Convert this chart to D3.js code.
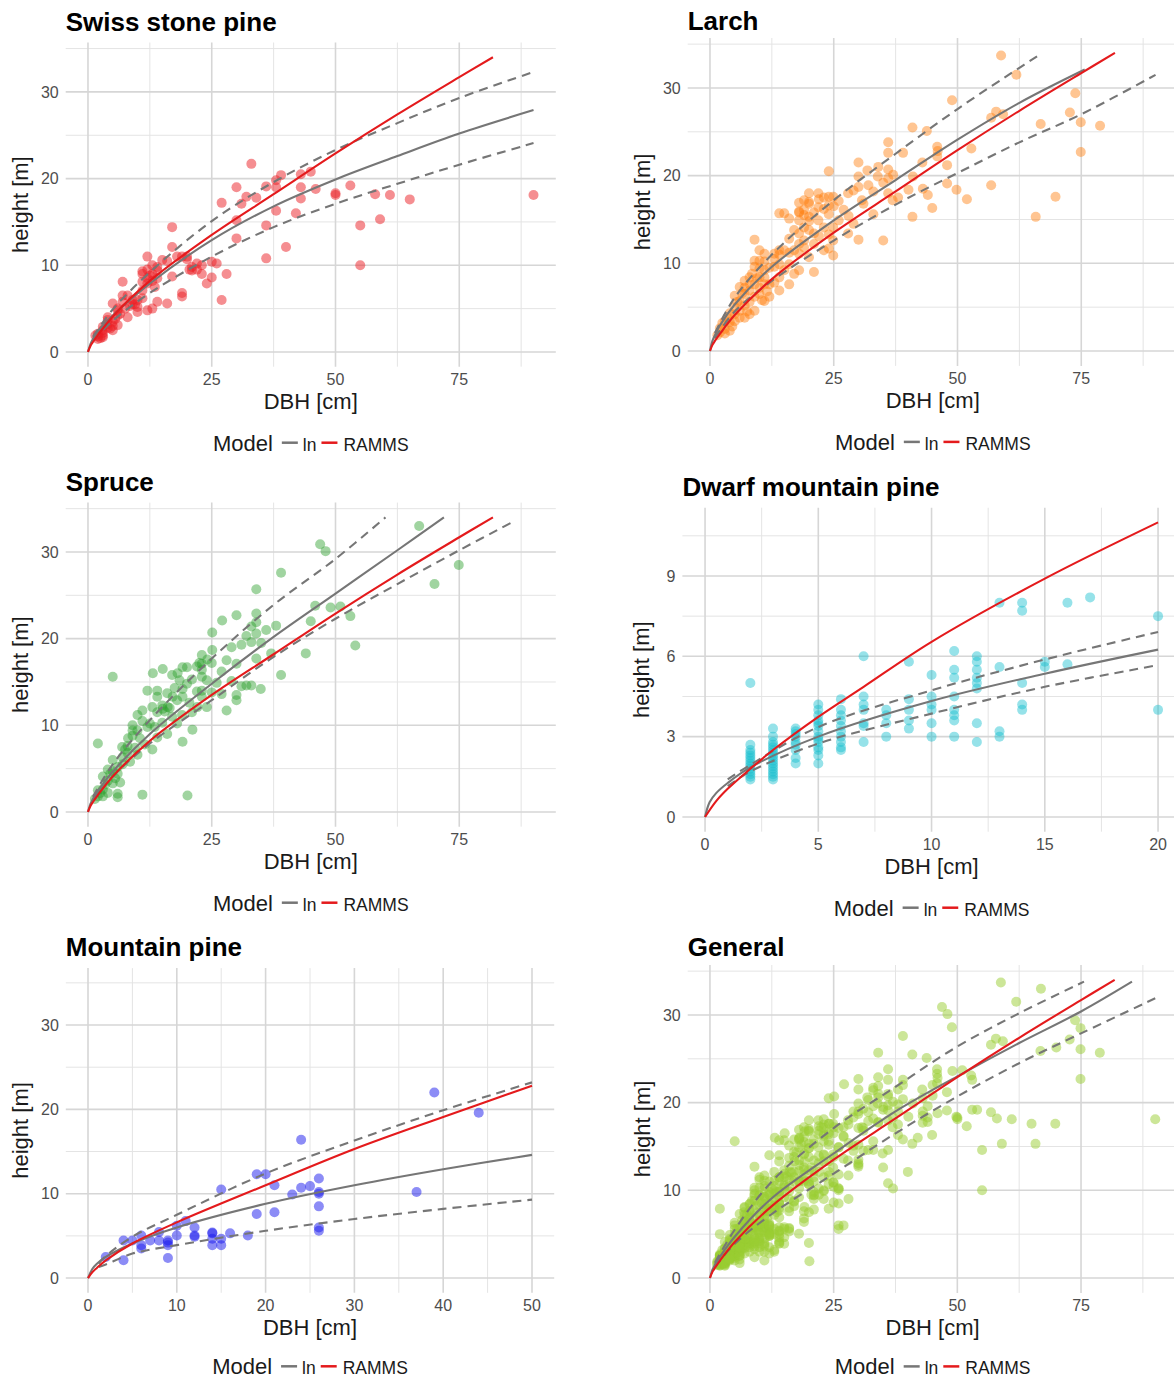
<!DOCTYPE html>
<html lang="en">
<head>
<meta charset="UTF-8">
<title>Tree height vs DBH</title>
<script src="https://cdn.jsdelivr.net/npm/d3@7"></script>
<style>
    body { margin: 0; background: #fff; }
    text { font-family: 'Liberation Sans', Arial, Helvetica, sans-serif; }
    .title { font-size: 26px; font-weight: bold; fill: #000; }
    .tick { font-size: 16px; fill: #4d4d4d; }
    .axis-title { font-size: 22px; fill: #1a1a1a; }
    .leg-title { font-size: 22px; fill: #1a1a1a; }
    .leg-item { font-size: 17.5px; fill: #1a1a1a; }
    .grid-major { stroke: #d6d6d6; stroke-width: 1.6; }
    .grid-minor { stroke: #e4e4e4; stroke-width: 1; }
    path.curve { fill: none; stroke-width: 2.1; }
</style>
</head>
<body>
<svg id="chart" width="1174" height="1380"></svg>
<script>
// ---- point data [DBH cm, height m] ----
const swissPts = [[90,18.1],[65,17.6],[61,18.1],[58,18.2],[59,15.3],[55,14.6],[55,10],[53,19.2],[50,18.3],[50,18.1],[46,18.8],[45,20.8],[43,20.5],[43,19],[43,17.7],[42,16],[40,12.1],[39,20.4],[38,19.8],[38,19],[38,16.3],[36,19.1],[36,14.6],[36,10.8],[34,17.8],[33,21.7],[32,17.9],[31,17.1],[30,19],[30,15.2],[30,13.1],[27,17.2],[28,9],[27,6],[25,10.4],[25,8.6],[24,7.9],[23,9],[22,10.2],[21,9.8],[20.5,9.5],[20,10.7],[19,11],[19,6.4],[19,6.8],[17,12.1],[17,14.4],[16,5.6],[17,8.7],[15,10.6],[14,9.4],[14,5.8],[13,9],[13,5],[12,11],[12,4.8],[12,7.9],[12,9.5],[12,8.5],[13,10],[13,8.2],[11,9],[11,8.1],[11,7.1],[11,6.2],[11,9.3],[10,4.6],[10,5.2],[9,6],[9,5.5],[8,4],[8,6.5],[7,8.1],[7,6.5],[7,5.8],[6,4.8],[6,3.1],[6,4.2],[6,5],[5,5.6],[5,2.5],[5,3.5],[5,3],[4,3.7],[4,2.8],[4,3.2],[4,4],[3,2.9],[3,2.2],[3,1.9],[3,2.5],[2,2.1],[2,1.5],[2,1.8],[1.5,1.9],[2.5,1.6],[3,1.7],[4.5,2.7],[5.5,3.8],[6.5,4.4],[7.5,5],[8.5,5.3],[9.5,5.5],[10,6],[14,9.8],[13.5,7.5],[16,10.5],[18,11],[20,11],[21,9.4],[22,9.5],[26,10.2],[23,10],[14,8.5],[12.5,8.8]];

const larchPts = [[58.8,33.7],[61.9,31.5],[48.9,28.6],[73.8,29.4],[72.7,27.2],[74.9,26.1],[78.8,25.7],[74.9,22.7],[57.8,27.3],[56.8,26.6],[59.2,27],[66.8,25.9],[69.8,17.6],[65.8,15.3],[56.8,18.9],[51.9,17.3],[49.8,18.4],[47.9,19.1],[47.9,21.2],[52.8,23.1],[45.9,23.3],[45.9,22.2],[43.8,25.1],[40.9,25.5],[42.9,21.5],[44.9,16.3],[40.9,15.3],[40.1,18.4],[39,22.6],[36,23.8],[36,22.6],[36,20.7],[36,19.7],[36,18],[36.9,17.2],[33.9,19.9],[33,18.2],[31.8,20.6],[30.7,17.2],[30,21.5],[30,19.9],[30,18.7],[27.9,18],[27.9,13.4],[30,12.7],[35,12.6],[24,20.5],[24,17.6],[24,16.6],[24.9,17.6],[24.9,14.1],[24.9,12.6],[24.9,10.9],[24,11.7],[23,11.5],[21.9,18],[21.9,16.4],[21.9,14.9],[21,13.4],[21,9],[20,18],[20,16.8],[20,15.3],[20,13.8],[20,10.7],[19,17.2],[19,16.1],[19,14.1],[19,12.6],[18,16.9],[18,15.9],[18,14.9],[18,13.4],[18,11.1],[18,9.2],[17,11.5],[16,9.9],[16,7.6],[16,15.1],[15,15.7],[14,15.7],[14,11.5],[14,9.9],[14,6.9],[13,11.1],[13,9.6],[12,7.6],[11,11.1],[11,9.2],[11,7.6],[11,5.7],[10,11.5],[10,10.3],[10,8.4],[10,6.5],[9,12.7],[9,9.6],[9,7.6],[9,4.6],[8,8.4],[8,6.9],[8,4.2],[7,8],[7,6.5],[7,3.8],[6,7.3],[6,5.7],[6,3.8],[5,6.3],[5,5],[5,3.4],[4,3.3],[4,2.3],[3,3.4],[3,2.5],[2,2.1],[1.5,1.8],[2,2.6],[2.5,3.2],[3,2],[3.5,3.8],[4,4.3],[4.5,2.8],[5,4.2],[5.5,5.6],[6,4.6],[6.5,6.6],[7,5.2],[7,7.2],[7.5,4.5],[8,7.6],[8,5.6],[8.5,8.8],[9,6.2],[9,10.3],[9.5,8.3],[10,7.2],[10,9.4],[10.5,5.8],[11,8.4],[11,10.2],[11.5,6.8],[12,9.5],[12,6.2],[13,7.8],[13,10.5],[14,8.4],[14,11],[15,9.2],[15,11.5],[16,11.2],[16,12.8],[17,13.8],[17,8.8],[18,15.8],[18,12.2],[19,15.5],[19,11.8],[20,14.8],[20,17],[21,15.8],[21,12.2],[22,17.3],[22,13.1],[23,16.2],[23,14.1],[23,17.5],[24,15.6],[24,13.3],[25,16.5],[26,17.1],[26,14.9],[27,16.1],[28,15.4],[29,18.3],[29,14.5],[31,16.8],[32,18.9],[33,15.6],[34,21],[35,19.2],[37,20.1],[38,17.5],[41,19.9],[43,18.5],[46,22.8],[44,17.8]];

const sprucePts = [[66.9,33],[46.9,30.9],[48,30.1],[39,27.6],[74.9,28.5],[70,26.3],[34,25.7],[45.9,23.8],[49,23.6],[51,23.7],[53,22.6],[45,22],[54,19.2],[44,18.3],[39,15.8],[34.9,14.2],[34,22.9],[34,21.9],[34,17.7],[33,14.6],[32,14.6],[30,22.7],[30,13.5],[30,12.9],[28,11.7],[27.1,22.1],[25.1,20.7],[25.1,18.7],[24.1,17.6],[23,17.1],[23,16.4],[23,15.6],[23,14],[23,13.3],[22.1,12.1],[21.1,9.5],[20.1,1.9],[19.1,16.7],[19.1,14.2],[19.1,13.3],[19.1,8.1],[18.1,16],[17.1,13.3],[16.1,12.1],[15.1,11.9],[15.1,16.5],[14,14],[14,13.3],[13.1,16],[12,14],[11,2],[11,11.7],[10,11.2],[9,10],[9,9.4],[8.1,8.5],[6.9,7.5],[5,15.6],[2,7.9],[6,1.7],[6,2.1],[5,6],[4,4.9],[3,4.1],[2,2.5],[1.4,1.5],[2,1.8],[2.5,2.2],[3,2.6],[3,1.8],[3.5,3.2],[4,2.2],[4,3.6],[4.5,4.4],[5,3.3],[5,4.7],[5.5,3.9],[6,4.4],[6,5.2],[6.5,3.4],[7,5.5],[7,6.3],[7.5,7.2],[8,6.8],[8,7.6],[8.5,5.8],[9,8.8],[9.5,7.4],[10,6.6],[10,9.4],[10.5,8.5],[11,10.5],[11.5,7.8],[12,9.8],[12.5,10.2],[13,7.2],[13,12.1],[13.5,9.8],[14,11.5],[14,8.6],[15,12.3],[15,10.3],[15.5,11.6],[16,13.7],[16,9],[16.5,12],[17,15.8],[17,11],[17.5,14.3],[18,12.9],[18,10.2],[18.5,15.2],[19,11.2],[20,16.7],[20,14.8],[20.5,12.6],[21,15.3],[21,11.5],[22,16.8],[22,13.9],[22.5,17.2],[23,18.1],[24,15.2],[24,12.1],[25,13.8],[25,17.2],[26,14.9],[27,13.6],[27,16.2],[28,17.5],[29,19],[29,15.1],[30,17.1],[31,19.3],[31,14.5],[32,20.3],[33,19.6],[33,21.4],[34,20.6],[35,19.5],[36,21],[38,21.5],[37,18.3]];

const dwarfPts = [[2,1.4],[2,1.5],[2,1.6],[2,1.7],[2,1.8],[2,1.9],[2,2],[2,2.1],[2,2.2],[2,2.3],[2,2.4],[2,2.5],[2,2.7],[2,5],
  [3,1.4],[3,1.5],[3,1.6],[3,1.7],[3,1.8],[3,1.9],[3,2],[3,2.1],[3,2.2],[3,2.3],[3,2.4],[3,2.5],[3,2.6],[3,2.7],[3,2.8],[3,3],[3,3.3],
  [4,2],[4,2.2],[4,2.5],[4,2.7],[4,2.8],[4,3],[4,3.1],[4,3.2],[4,3.3],
  [5,2],[5,2.3],[5,2.5],[5,2.6],[5,2.8],[5,2.9],[5,3],[5,3.2],[5,3.4],[5,3.5],[5,3.6],[5,3.8],[5,4],[5,4.2],
  [6,2.5],[6,2.6],[6,2.8],[6,3],[6,3.2],[6,3.4],[6,3.6],[6,3.8],[6,4],[6,4.4],
  [7,6],[7,4.5],[7,4.2],[7,4],[7,3.5],[7,3.4],[7,2.8],
  [8,4],[8,3.8],[8,3.5],[8,3],
  [9,5.8],[9,4.4],[9,4],[9,3.6],[9,3.3],
  [10,5.3],[10,4.5],[10,4.2],[10,4],[10,3.5],[10,3],
  [11,6.2],[11,5.5],[11,5.2],[11,4.5],[11,4],[11,3.8],[11,3.6],[11,3],
  [12,6],[12,5.8],[12,5.5],[12,5.2],[12,5],[12,4.8],[12,3.5],[12,2.8],
  [13,8],[13,5.6],[13,3.2],[13,3],
  [14,8],[14,7.7],[14,5],[14,4.2],[14,4],
  [15,5.8],[15,5.6],[16,8],[16,5.7],[17,8.2],[20,7.5],[20,4]];

const mtnPts = [[39,22],[44,19.6],[24,16.4],[19,12.3],[20,12.3],[26,11.8],[21,11],[25,10.9],[24,10.7],[23,9.9],[26,10.2],[26,10],[37,10.2],[15,10.5],[26,8.5],[19,7.6],[21,7.8],[26,6],[26,5.6],[11,6.75],[10,6.2],[12,6],[12,5.05],[12,4.9],[14,5.3],[14,3.9],[14,4.65],[15,4.65],[15,3.9],[16,5.3],[18,5.05],[10,5.05],[9,4.45],[9,3.9],[9,2.37],[8,4.45],[8,5.45],[7,4.45],[6,5.05],[6,3.9],[6,3.5],[5,4.45],[4,4.45],[4,2.1],[2,2.5],[14,5.4],[9,4.2]];

// General = all species pooled
const generalPts = [].concat(swissPts, larchPts, sprucePts, dwarfPts, mtnPts);

// ---- model curves [DBH, height] ----
const rammsBroad = [[0,0],[0.5,0.7],[1,1.15],[2,1.95],[5,4.1],[12.5,8.2],[25,13.5],[37.5,18.2],[50,22.9],[62.5,27.4],[75,31.7],[81.8,34]];

const swissLn = [[0,0],[0.5,0.9],[1,1.5],[2,2.4],[5,4.2],[12.5,7.9],[25,12.9],[37.5,16.8],[50,19.9],[62.5,22.6],[75,25.2],[90,27.9]];
const swissHi = [[1,1.75],[5,4.9],[12.5,9.2],[25,15.1],[37.5,19.6],[50,23.3],[62.5,26.4],[75,29.3],[90,32.3]];
const swissLo = [[1,1.3],[5,3.6],[12.5,6.8],[25,11.0],[37.5,14.4],[50,17.1],[62.5,19.4],[75,21.6],[90,24.1]];

const larchLn = [[0,0],[0.5,1.15],[1,1.8],[2,2.9],[5,5.3],[12.5,9.6],[25,14.9],[37.5,19.5],[50,24.1],[62.5,28.3],[75.7,32.1]];
const larchHi = [[1,2.05],[5,6.1],[12.5,11],[25,17.2],[37.5,22.5],[50,27.6],[62.5,32.3],[66.3,33.7]];
const larchLo = [[1,1.5],[5,4.5],[12.5,8],[25,12.6],[37.5,16.7],[50,20.3],[62.5,23.8],[75,27],[90,31.5]];

const spruceLn = [[0,0],[0.5,0.92],[1,1.5],[2,2.4],[5,4.65],[12.5,9],[25,14.8],[37.5,20.2],[50,25.2],[62.5,30.2],[71.9,34]];
const spruceHi = [[1,1.75],[5,5.5],[12.5,10.6],[25,17.7],[37.5,23.9],[50,29.2],[60.1,34]];
const spruceLo = [[1,1.3],[5,4.1],[12.5,7.9],[25,12.9],[37.5,17.9],[50,22.3],[62.5,26.3],[75,30.2],[86.4,33.65]];

const dwarfRamms = [[0,0],[0.5,0.6],[1,1.05],[2,1.8],[3,2.5],[5,3.74],[7,4.86],[10,6.54],[15,8.9],[20,11]];
const dwarfLn = [[0,0],[0.2,0.55],[0.5,0.9],[1,1.27],[2,1.85],[5,3],[10,4.33],[15,5.35],[20,6.25]];
const dwarfHi = [[1,1.4],[2,1.95],[5,3.36],[10,4.73],[15,5.88],[20,6.91]];
const dwarfLo = [[1,1.15],[2,1.7],[5,2.74],[10,3.86],[15,4.86],[20,5.67]];

const mtnRamms = [[0,0],[0.5,0.7],[1,1.2],[2,2.1],[5,4.1],[10,6.6],[20,11],[30,15.3],[40,19.1],[50,22.8]];
const mtnLn = [[0,0],[0.5,1.1],[1,1.7],[2,2.5],[5,4.1],[10,6],[20,8.8],[30,11],[40,12.9],[50,14.6]];
const mtnHi = [[1.2,1.7],[2,2.6],[5,4.9],[10,7.5],[20,12.4],[30,16.3],[40,19.9],[50,23.2]];
const mtnLo = [[1.2,1.3],[2,1.6],[5,2.9],[10,3.9],[20,5.6],[30,7],[40,8.2],[50,9.3]];

const generalLn = [[0,0],[0.5,0.95],[1,1.5],[2,2.4],[5,4.7],[12.5,9.1],[25,14.2],[37.5,19],[50,23],[62.5,26.8],[75,30.4],[85.3,33.8]];
const generalHi = [[1,1.75],[5,5.5],[12.5,11],[25,17.1],[37.5,21.8],[50,26.4],[62.5,30.2],[75.6,33.8]];
const generalLo = [[1,1.25],[5,3.9],[12.5,7.3],[25,11.9],[37.5,16.5],[50,20.7],[62.5,24.5],[75,27.9],[90,31.9]];

// ---- ticks ----
const ticksBroadX = [0, 25, 50, 75], minorBroadX = [12.5, 37.5, 62.5, 87.5];
const ticksH = [0, 10, 20, 30], minorH = [5, 15, 25, 35];
const ticksDwarfX = [0, 5, 10, 15, 20], minorDwarfX = [2.5, 7.5, 12.5, 17.5];
const ticksDwarfY = [0, 3, 6, 9], minorDwarfY = [1.5, 4.5, 7.5, 10.5];
const ticksMtnX = [0, 10, 20, 30, 40, 50], minorMtnX = [5, 15, 25, 35, 45];

const panels = [
    {title: "Swiss stone pine", pts: swissPts, col: "#eb1d24", op: 0.5, ramms: rammsBroad, ln: swissLn, hi: swissHi, lo: swissLo,
     xMax: 90, yMax: 34, xt: ticksBroadX, xm: minorBroadX, yt: ticksH, ym: minorH,
     L: 65.7, R: 555.8, T: 42.5, B: 366.7, titleY: 31, ylabOff: 38, legOff: 84},
    {title: "Larch", pts: larchPts, col: "#ff7f0e", op: 0.45, ramms: rammsBroad, ln: larchLn, hi: larchHi, lo: larchLo,
     xMax: 90, yMax: 34, xt: ticksBroadX, xm: minorBroadX, yt: ticksH, ym: minorH,
     L: 687.7, R: 1177.8, T: 38, B: 365.9, titleY: 30, ylabOff: 38, legOff: 84},
    {title: "Spruce", pts: sprucePts, col: "#2ca02c", op: 0.45, ramms: rammsBroad, ln: spruceLn, hi: spruceHi, lo: spruceLo,
     xMax: 90, yMax: 34, xt: ticksBroadX, xm: minorBroadX, yt: ticksH, ym: minorH,
     L: 65.7, R: 555.8, T: 502.6, B: 826.7, titleY: 491, ylabOff: 38, legOff: 84},
    {title: "Dwarf mountain pine", pts: dwarfPts, col: "#17becf", op: 0.45, ramms: dwarfRamms, ln: dwarfLn, hi: dwarfHi, lo: dwarfLo,
     xMax: 20, yMax: 11, xt: ticksDwarfX, xm: minorDwarfX, yt: ticksDwarfY, ym: minorDwarfY,
     L: 682.4, R: 1180.7, T: 507.7, B: 831.7, titleY: 496, ylabOff: 33, legOff: 84},
    {title: "Mountain pine", pts: mtnPts, col: "#1a1aee", op: 0.5, ramms: mtnRamms, ln: mtnLn, hi: mtnHi, lo: mtnLo,
     xMax: 50, yMax: 35, xt: ticksMtnX, xm: minorMtnX, yt: ticksH, ym: minorH,
     L: 65.8, R: 554.2, T: 968.1, B: 1292.8, titleY: 956, ylabOff: 38, legOff: 81.5},
    {title: "General", pts: generalPts, col: "#9acd32", op: 0.5, ramms: rammsBroad, ln: generalLn, hi: generalHi, lo: generalLo,
     xMax: 90, yMax: 34, xt: ticksBroadX, xm: minorBroadX, yt: ticksH, ym: minorH,
     L: 687.7, R: 1177.5, T: 965, B: 1292.9, titleY: 956, ylabOff: 38, legOff: 81.5}
];

const greyCol = "#767676", redCol = "#e41a1c";
const svg = d3.select("#chart");

panels.forEach(drawPanel);

function drawPanel(p) {
    const g = svg.append("g");
    const x = d3.scaleLinear().domain([-0.05 * p.xMax, 1.05 * p.xMax]).range([p.L, p.R]);
    const y = d3.scaleLinear().domain([-0.05 * p.yMax, 1.05 * p.yMax]).range([p.B, p.T]);

    // grid
    g.selectAll("line.vm").data(p.xm).join("line").attr("class", "grid-minor")
        .attr("x1", x).attr("x2", x).attr("y1", p.T).attr("y2", p.B);
    g.selectAll("line.hm").data(p.ym).join("line").attr("class", "grid-minor")
        .attr("y1", y).attr("y2", y).attr("x1", p.L).attr("x2", p.R);
    g.selectAll("line.vM").data(p.xt).join("line").attr("class", "grid-major")
        .attr("x1", x).attr("x2", x).attr("y1", p.T).attr("y2", p.B);
    g.selectAll("line.hM").data(p.yt).join("line").attr("class", "grid-major")
        .attr("y1", y).attr("y2", y).attr("x1", p.L).attr("x2", p.R);

    // tick labels
    g.selectAll("text.xt").data(p.xt).join("text").attr("class", "tick")
        .attr("x", x).attr("y", p.B + 18.5).attr("text-anchor", "middle").text(d => d);
    g.selectAll("text.yt").data(p.yt).join("text").attr("class", "tick")
        .attr("x", p.L - 7).attr("y", y).attr("dy", "0.36em").attr("text-anchor", "end").text(d => d);

    // points
    g.append("g").selectAll("circle").data(p.pts).join("circle")
        .attr("cx", d => x(d[0])).attr("cy", d => y(d[1])).attr("r", 5)
        .style("fill", p.col).style("fill-opacity", p.op);

    // curves (smooth through the read points)
    const line = d3.line().x(d => x(d[0])).y(d => y(d[1])).curve(d3.curveCatmullRom.alpha(0.5));
    g.append("path").attr("class", "curve").attr("d", line(p.hi)).style("stroke", greyCol).style("stroke-dasharray", "9,6");
    g.append("path").attr("class", "curve").attr("d", line(p.lo)).style("stroke", greyCol).style("stroke-dasharray", "9,6");
    g.append("path").attr("class", "curve").attr("d", line(p.ln)).style("stroke", greyCol);
    g.append("path").attr("class", "curve").attr("d", line(p.ramms)).style("stroke", redCol);

    // titles
    const cx = (p.L + p.R) / 2;
    g.append("text").attr("class", "title").attr("x", p.L).attr("y", p.titleY).text(p.title);
    g.append("text").attr("class", "axis-title").attr("x", cx).attr("y", p.B + 42)
        .attr("text-anchor", "middle").text("DBH [cm]");
    g.append("text").attr("class", "axis-title").attr("text-anchor", "middle")
        .attr("transform", `translate(${p.L - p.ylabOff},${(p.T + p.B) / 2}) rotate(-90)`).text("height [m]");

    // legend
    const leg = g.append("g");
    const ly = p.B + p.legOff;
    let cur = 0;
    const t1 = leg.append("text").attr("class", "leg-title").attr("x", cur).attr("y", ly).text("Model");
    cur += t1.node().getComputedTextLength() + 9;
    leg.append("line").attr("x1", cur).attr("x2", cur + 16).attr("y1", ly - 8).attr("y2", ly - 8)
        .style("stroke", greyCol).style("stroke-width", 2.5);
    cur += 21;
    const t2 = leg.append("text").attr("class", "leg-item").attr("x", cur).attr("y", ly).text("ln");
    cur += t2.node().getComputedTextLength() + 5;
    leg.append("line").attr("x1", cur).attr("x2", cur + 16).attr("y1", ly - 8).attr("y2", ly - 8)
        .style("stroke", redCol).style("stroke-width", 2.5);
    cur += 22;
    const t3 = leg.append("text").attr("class", "leg-item").attr("x", cur).attr("y", ly).text("RAMMS");
    cur += t3.node().getComputedTextLength();
    leg.attr("transform", `translate(${cx - cur / 2},0)`);
}
</script>
</body>
</html>
